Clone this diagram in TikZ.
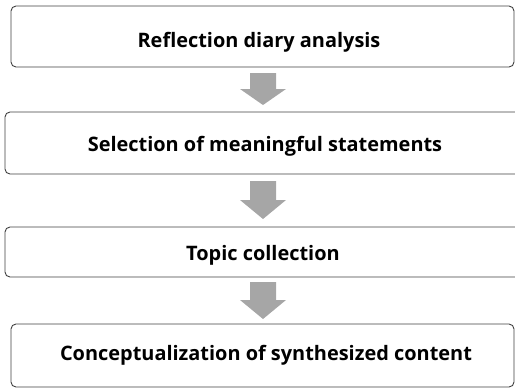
\documentclass[tikz,border=0pt]{standalone}
\usepackage{fontspec}
\setmainfont{Open Sans}
\begin{document}
\begin{tikzpicture}[x=1bp,y=-1bp]
\definecolor{boxline}{HTML}{404040}
\definecolor{arrowgray}{HTML}{A6A6A6}
\tikzset{
  stepbox/.style={draw=boxline, line width=0.9bp, rounded corners=5bp, fill=white, inner sep=0pt},
  steptext/.style={font=\bfseries\fontsize{20}{24}\selectfont, text=black, inner sep=0pt, anchor=base},
  blockarrow/.style={fill=arrowgray, draw=none}
}
\path[use as bounding box] (0,0) rectangle (515,388);
\begin{scope}
\clip (0,0) rectangle (515,388);
% boxes
\node[stepbox, minimum width=503bp, minimum height=61bp] (b1) at (262.5,36.5) {};
\node[stepbox, minimum width=515bp, minimum height=62bp] (b2) at (262.5,143) {};
\node[stepbox, minimum width=515bp, minimum height=50bp] (b3) at (262.5,252) {};
\node[stepbox, minimum width=503bp, minimum height=63bp] (b4) at (262.5,355.5) {};
% arrows
\fill[blockarrow] (250,73) -- (276,73) -- (276,89) -- (286,89) -- (263,105) -- (240,89) -- (250,89) -- cycle;
\fill[blockarrow] (250,181) -- (276,181) -- (276,200) -- (286,200) -- (263,219) -- (240,200) -- (250,200) -- cycle;
\fill[blockarrow] (250,282) -- (276,282) -- (276,300) -- (286,300) -- (263,319) -- (240,300) -- (250,300) -- cycle;
\end{scope}
\node[steptext] (t1) at (259,47) {Reflection diary analysis};
\node[steptext] (t2) at (265,151) {Selection of meaningful statements};
\node[steptext] (t3) at (263,260.5) {Topic collection};
\node[steptext] (t4) at (266,360) {Conceptualization of synthesized content};
\end{tikzpicture}
\end{document}
